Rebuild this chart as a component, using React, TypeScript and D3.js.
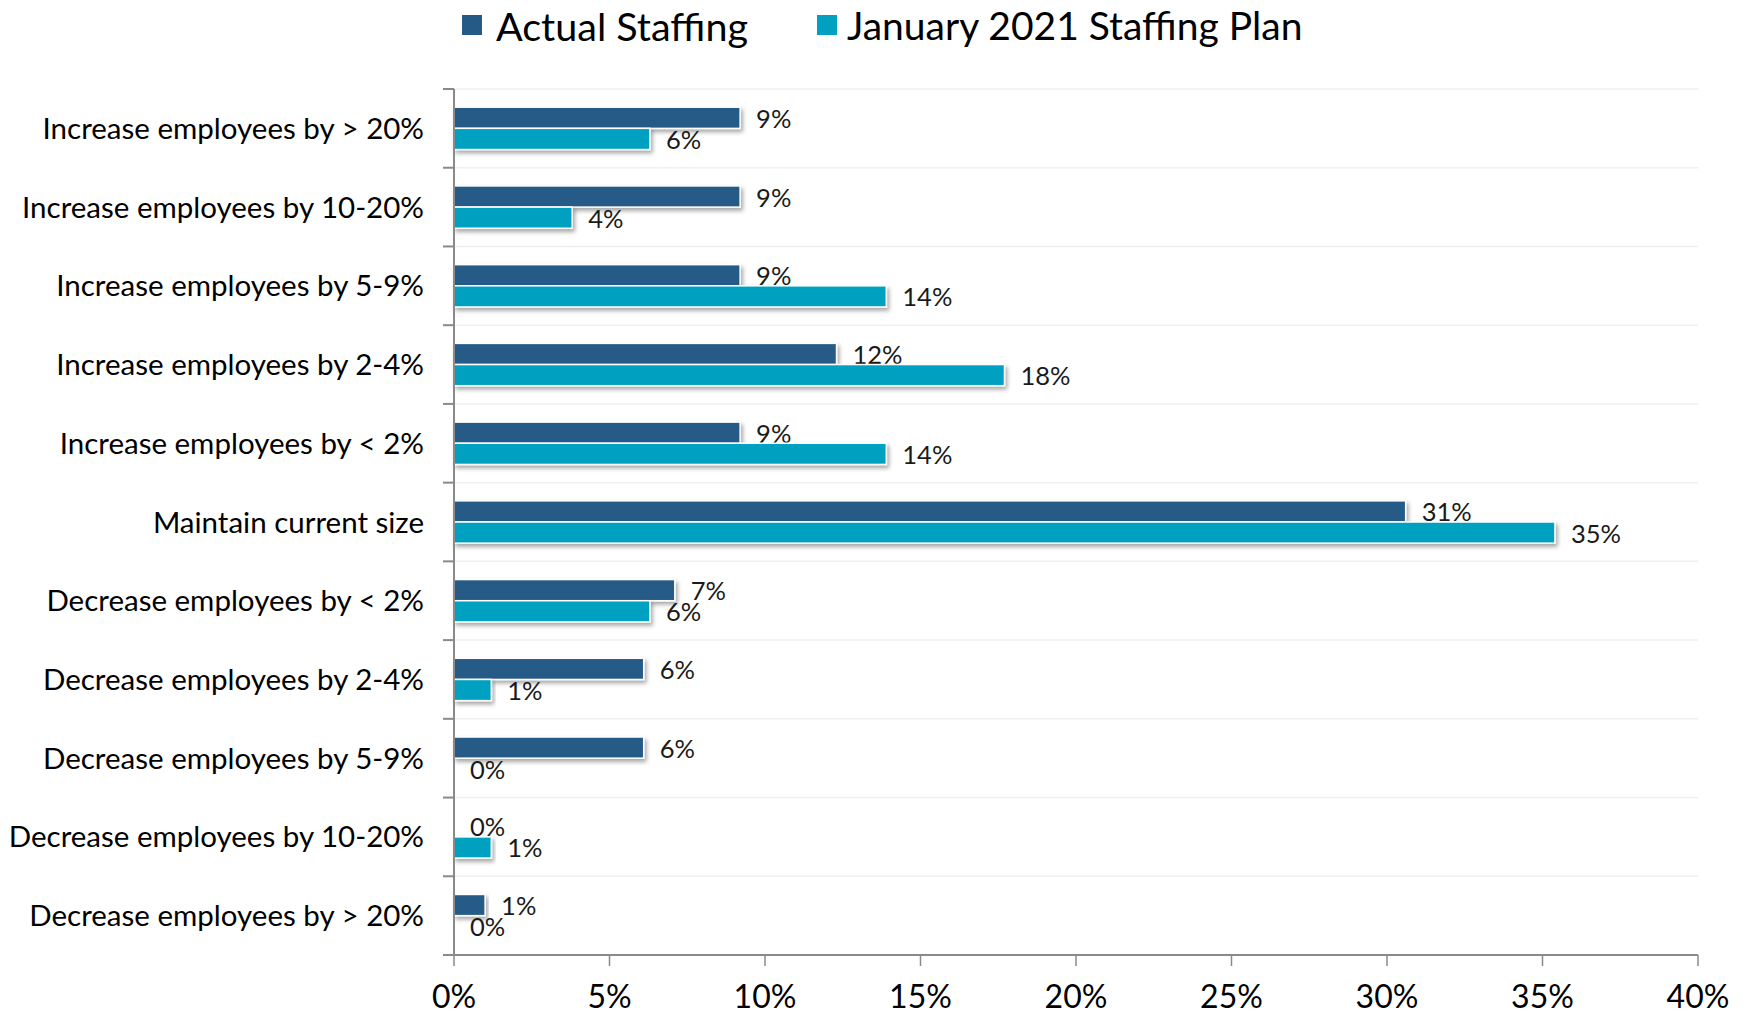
import * as d3 from 'd3'

const categories = [
  'Increase employees by > 20%',
  'Increase employees by 10-20%',
  'Increase employees by 5-9%',
  'Increase employees by 2-4%',
  'Increase employees by < 2%',
  'Maintain current size',
  'Decrease employees by < 2%',
  'Decrease employees by 2-4%',
  'Decrease employees by 5-9%',
  'Decrease employees by 10-20%',
  'Decrease employees by > 20%',
]

const seriesNames = ['Actual Staffing', 'January 2021 Staffing Plan']
const seriesColors = ['#255A87', '#00A0C0']

// percent values
const actualStaffing = [9.2, 9.2, 9.2, 12.3, 9.2, 30.6, 7.1, 6.1, 6.1, 0, 1.0]
const staffingPlan = [6.3, 3.8, 13.9, 17.7, 13.9, 35.4, 6.3, 1.2, 0, 1.2, 0]

const xTicks = [0, 5, 10, 15, 20, 25, 30, 35, 40]

const FONT = "Lato, 'Open Sans', sans-serif"

export default function App() {
  const width = 1743
  const height = 1011
  const left = 454
  const right = 1698
  const top = 89
  const bottom = 955

  const x = d3.scaleLinear().domain([0, 40]).range([left, right])
  const y = d3.scaleBand<string>().domain(categories).range([top, bottom]).paddingInner(0)
  const sub = d3
    .scaleBand<number>()
    .domain([0, 1])
    .range([0, y.bandwidth()])
    .paddingInner(0)
    .paddingOuter(0.86)

  const values = [actualStaffing, staffingPlan]
  const boundaries = categories.map((c) => y(c) as number).concat([bottom])

  return (
    <svg
      width={width}
      height={height}
      style={{ position: 'absolute', left: 0, top: 0, background: '#fff' }}
      fontFamily={FONT}
    >
      <defs>
        <filter id="shadow" x="-5%" y="-30%" width="115%" height="190%">
          <feDropShadow dx="2" dy="3" stdDeviation="2" floodColor="#000" floodOpacity="0.35" />
        </filter>
      </defs>

      {/* legend */}
      <g>
        <rect x={462} y={15} width={20} height={20} fill={seriesColors[0]} />
        <text x={496} y={25} fontSize={39.5} dominantBaseline="central" fill="#000">
          {seriesNames[0]}
        </text>
        <rect x={817} y={15} width={20} height={20} fill={seriesColors[1]} />
        <text x={847} y={25} fontSize={39} dominantBaseline="central" fill="#000">
          {seriesNames[1]}
        </text>
      </g>

      {/* gridlines */}
      {boundaries.map((b, i) => (
        <line key={'g' + i} x1={left} x2={right} y1={b} y2={b} stroke="#efefef" strokeWidth={1.5} />
      ))}

      {/* bars */}
      {categories.map((c, ci) =>
        values.map((vals, si) => {
          const v = vals[ci]
          const by = (y(c) as number) + (sub(si) as number)
          const bh = sub.bandwidth()
          return (
            <g key={c + si}>
              {v > 0 && (
                <rect
                  x={x(0)}
                  y={by}
                  width={x(v) - x(0)}
                  height={bh}
                  fill={seriesColors[si]}
                  stroke="#fff"
                  strokeWidth={1.5}
                  filter="url(#shadow)"
                />
              )}
              <text
                x={x(v) + 16}
                y={by + bh / 2}
                fontSize={25.5}
                dominantBaseline="central"
                fill="#1a1a1a"
              >
                {Math.round(v)}%
              </text>
            </g>
          )
        })
      )}

      {/* y axis */}
      <line x1={left} x2={left} y1={top} y2={bottom} stroke="#8a8a8a" strokeWidth={2} />
      {boundaries.map((b, i) => (
        <line key={'yt' + i} x1={left - 11} x2={left} y1={b} y2={b} stroke="#8a8a8a" strokeWidth={2} />
      ))}
      {categories.map((c) => (
        <text
          key={c}
          x={424}
          y={(y(c) as number) + y.bandwidth() / 2 - 1}
          textAnchor="end"
          dominantBaseline="central"
          fontSize={29.5}
          fill="#000"
        >
          {c}
        </text>
      ))}

      {/* x axis */}
      <line x1={left - 11} x2={right} y1={bottom} y2={bottom} stroke="#8a8a8a" strokeWidth={2} />
      {xTicks.map((t) => (
        <g key={'xt' + t}>
          <line x1={x(t)} x2={x(t)} y1={bottom} y2={bottom + 11} stroke="#8a8a8a" strokeWidth={1.5} />
          <text
            x={x(t)}
            y={995}
            textAnchor="middle"
            dominantBaseline="central"
            fontSize={32}
            fill="#000"
          >
            {t}%
          </text>
        </g>
      ))}
    </svg>
  )
}
